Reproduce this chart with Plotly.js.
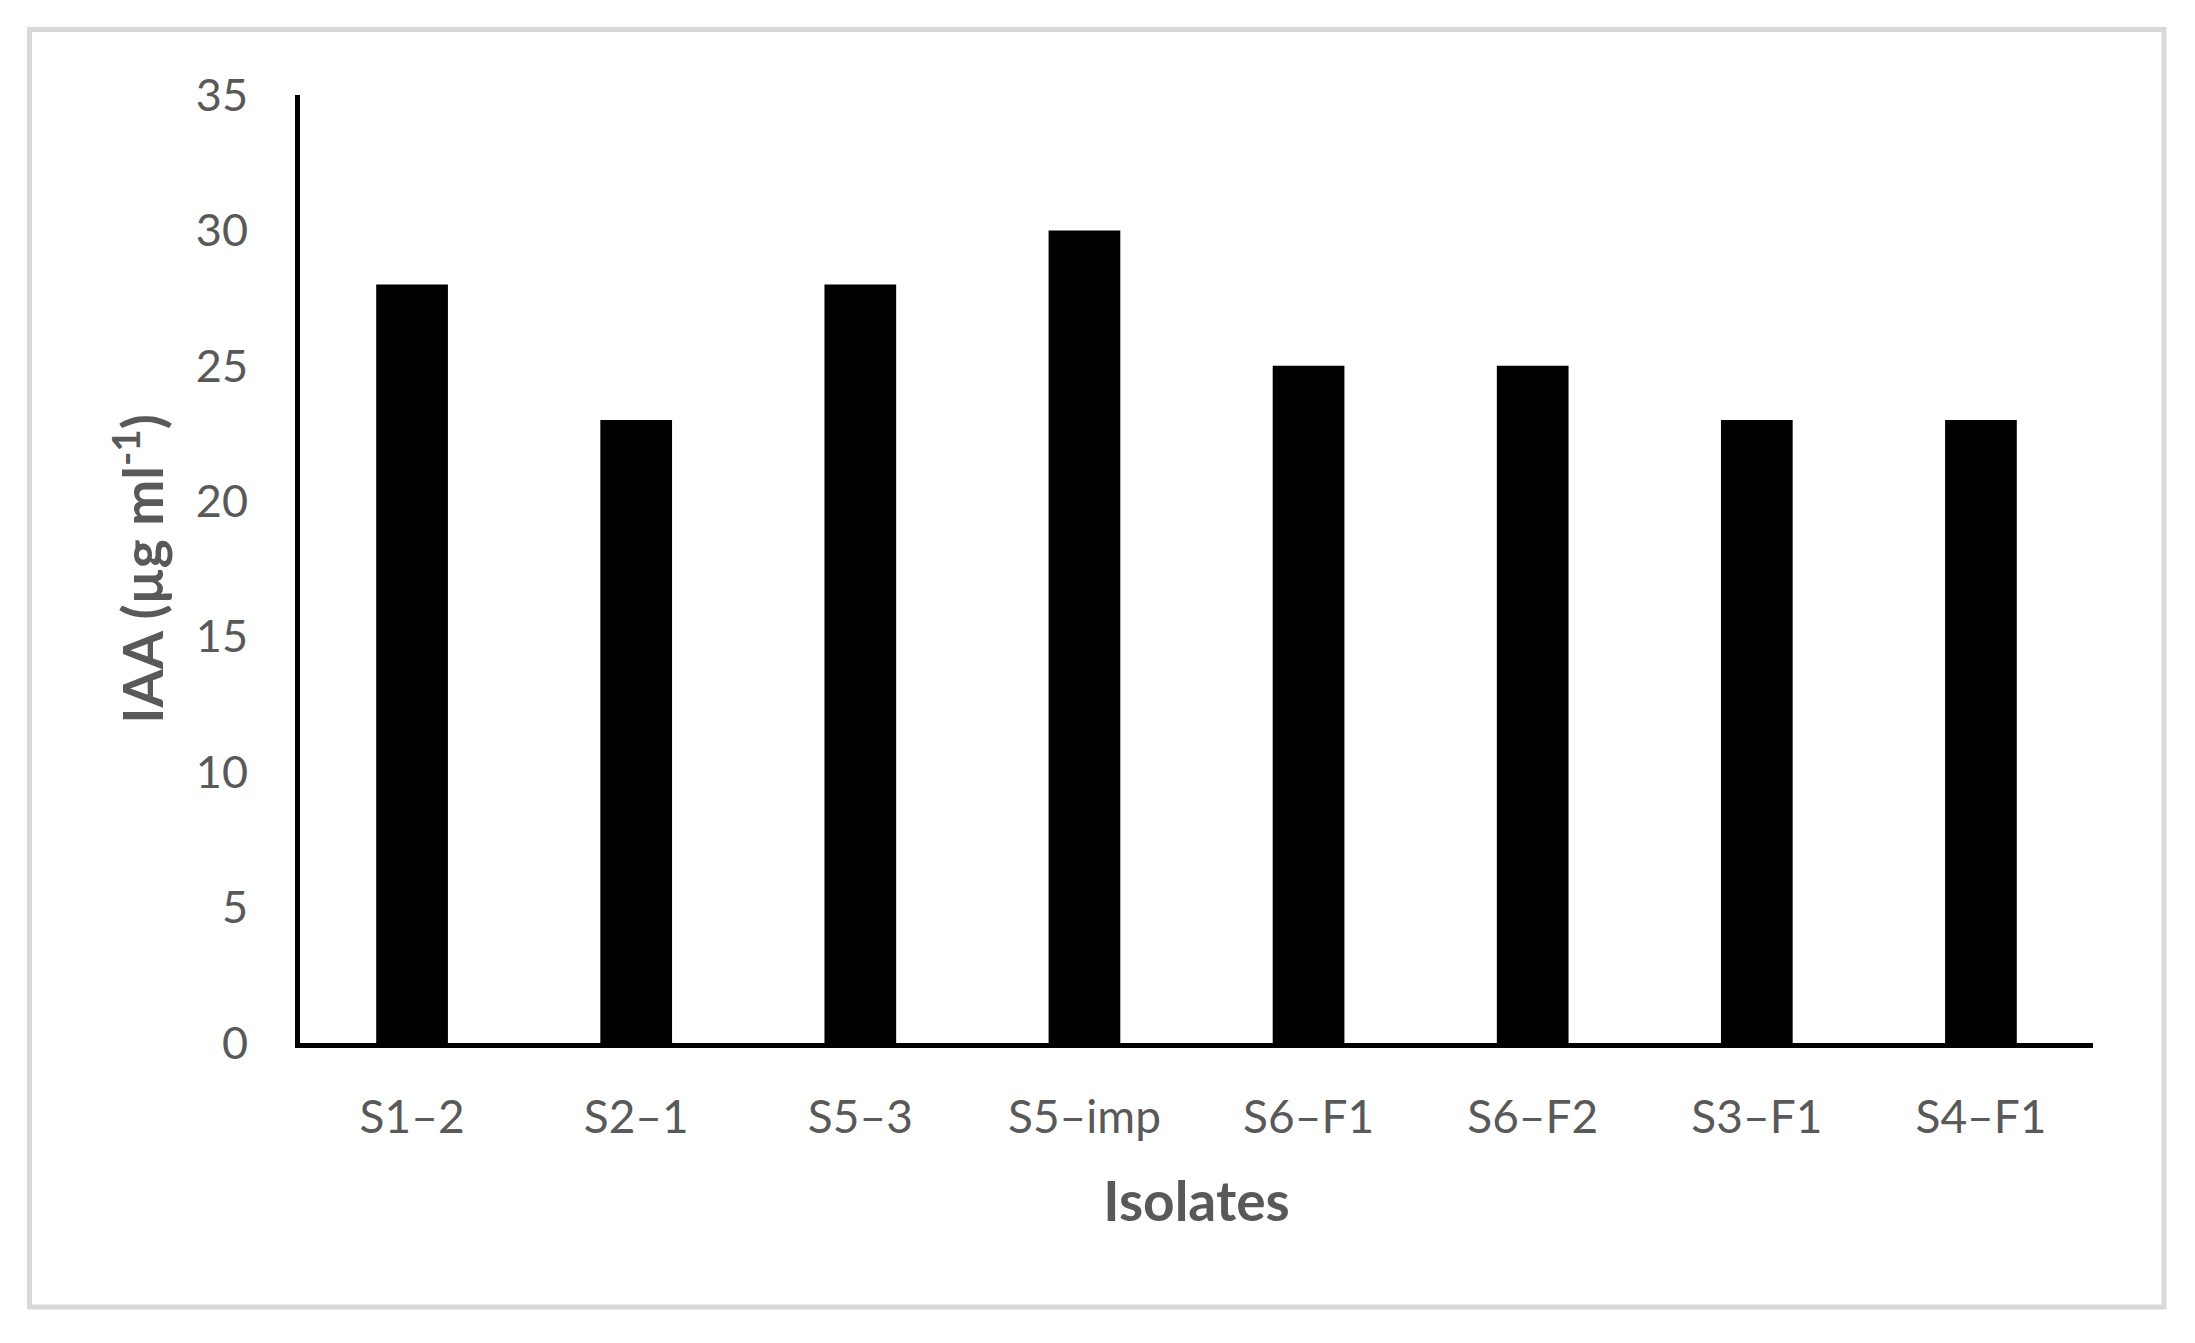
<!DOCTYPE html>
<html>
<head>
<meta charset="utf-8">
<script src="https://cdn.plot.ly/plotly-3.0.1.min.js"></script>
<style>
html,body{margin:0;padding:0;background:#fff;}
#chart{width:2195px;height:1343px;}
</style>
</head>
<body>
<div id="chart"></div>
<script>
const isolates = ["S1\u20132", "S2\u20131", "S5\u20133", "S5\u2013imp", "S6\u2013F1", "S6\u2013F2", "S3\u2013F1", "S4\u2013F1"];
const iaaValues = [28, 23, 28, 30, 25, 25, 23, 23];
const yTicks = [0, 5, 10, 15, 20, 25, 30, 35];

const W = 2195, H = 1343;
const L = 300, R = 102, T = 95, B = 300;
const pw = W - L - R, ph = H - T - B;
function px2x(p){ return (p - L) / pw; }
function py2y(p){ return (H - B - p) / ph; }

const fontFam = 'Lato, "Open Sans", sans-serif';
const grey = '#595959';

const trace = {
  type: 'bar',
  x: isolates,
  y: iaaValues,
  marker: {color: '#000000', line: {width: 0}},
  hoverinfo: 'x+y'
};

const layout = {
  width: W, height: H,
  margin: {l: L, r: R, t: T, b: B, pad: 0},
  paper_bgcolor: '#ffffff',
  plot_bgcolor: '#ffffff',
  showlegend: false,
  bargap: 0.68,
  font: {family: fontFam, color: grey},
  xaxis: {
    type: 'category',
    showline: true, linecolor: '#000000', linewidth: 5,
    showgrid: false, zeroline: false,
    ticks: '', ticklabelstandoff: 30,
    tickfont: {family: fontFam, size: 46, color: grey},
    title: {text: '<b>Isolates</b>', font: {family: fontFam, size: 55, color: grey}, standoff: 42},
    automargin: false
  },
  yaxis: {
    range: [0, 35],
    tickvals: yTicks,
    ticktext: yTicks.map(String),
    showline: true, linecolor: '#000000', linewidth: 5,
    showgrid: false, zeroline: false,
    ticks: '', ticklabelstandoff: 38,
    tickfont: {family: fontFam, size: 45, color: grey},
    title: {text: '<b>IAA (µg ml<sup>-1</sup>)</b>', font: {family: fontFam, size: 55, color: grey}, standoff: 16},
    automargin: false
  },
  shapes: [{
    type: 'rect', xref: 'paper', yref: 'paper',
    x0: px2x(29.5), x1: px2x(2164), y0: py2y(1307), y1: py2y(29.5),
    line: {color: '#d9d9d9', width: 5}, fillcolor: 'rgba(0,0,0,0)', layer: 'below'
  }]
};

Plotly.newPlot('chart', [trace], layout, {displayModeBar: false, staticPlot: true});
</script>
</body>
</html>
